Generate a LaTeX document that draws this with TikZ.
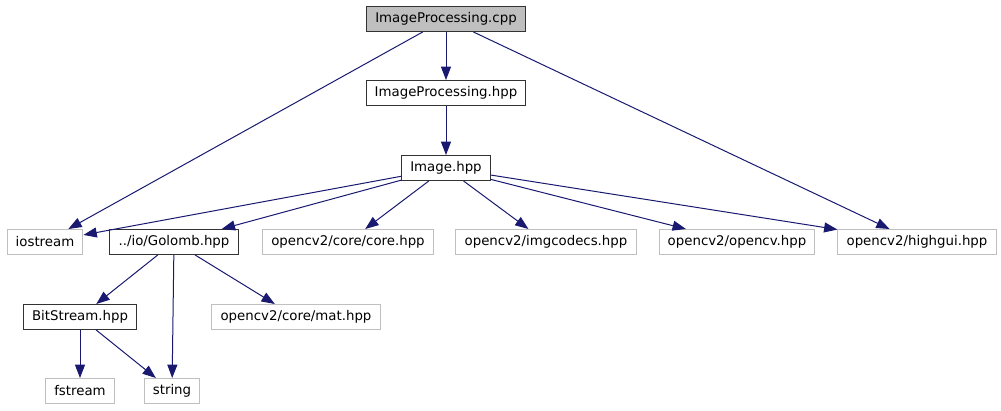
\documentclass[tikz,border=0pt]{standalone}
\usepackage{fontspec}
\setmainfont{DejaVu Sans}
\usetikzlibrary{arrows.meta}
\definecolor{incblue}{HTML}{191970}
\definecolor{rootgray}{HTML}{BFBFBF}

\begin{document}
\begin{tikzpicture}[x=0.75pt,y=-0.75pt,font=\fontsize{10}{12}\selectfont,
  file/.style={draw=black!80,line width=0.75pt,fill=white,minimum height=18.75pt,
    inner xsep=6.5pt,inner ysep=0pt},
  rootfile/.style={file,fill=rootgray},
  sysfile/.style={file,draw=rootgray},
  inc/.style={draw=incblue,line width=0.75pt,-{Triangle[length=10pt,width=7.5pt]}}]
  \useasboundingbox (0,0) rectangle (1001,411);
  % top row
  \node[rootfile] (cpp) at (446,19) {ImageProcessing.cpp};
  \node[file] (hpp) at (446,93) {ImageProcessing.hpp};
  \node[file] (image) at (446,168) {Image.hpp};
  % included by Image.hpp
  \node[sysfile] (iostream) at (45,242) {iostream};
  \node[file] (golomb) at (174,242) {../io/Golomb.hpp};
  \node[sysfile] (core) at (348,242) {opencv2/core/core.hpp};
  \node[sysfile] (imgcodecs) at (546,242) {opencv2/imgcodecs.hpp};
  \node[sysfile] (opencv) at (737,242) {opencv2/opencv.hpp};
  \node[sysfile] (highgui) at (917,242) {opencv2/highgui.hpp};
  % Golomb and below
  \node[file] (bitstream) at (80,317) {BitStream.hpp};
  \node[sysfile] (mat) at (296,317) {opencv2/core/mat.hpp};
  \node[sysfile] (fstream) at (80,391) {fstream};
  \node[sysfile] (string) at (172,391) {string};

  \draw[inc] (cpp) -- (hpp);
  \draw[inc] (cpp) -- (iostream);
  \draw[inc] (cpp) -- (highgui);
  \draw[inc] (hpp) -- (image);
  \foreach \dst in {iostream,golomb,core,imgcodecs,opencv,highgui}
    \draw[inc] (image) -- (\dst);
  \draw[inc] (golomb) -- (bitstream);
  \draw[inc] (golomb) -- (string);
  \draw[inc] (golomb) -- (mat);
  \draw[inc] (bitstream) -- (fstream);
  \draw[inc] (bitstream) -- (string);
\end{tikzpicture}
\end{document}
